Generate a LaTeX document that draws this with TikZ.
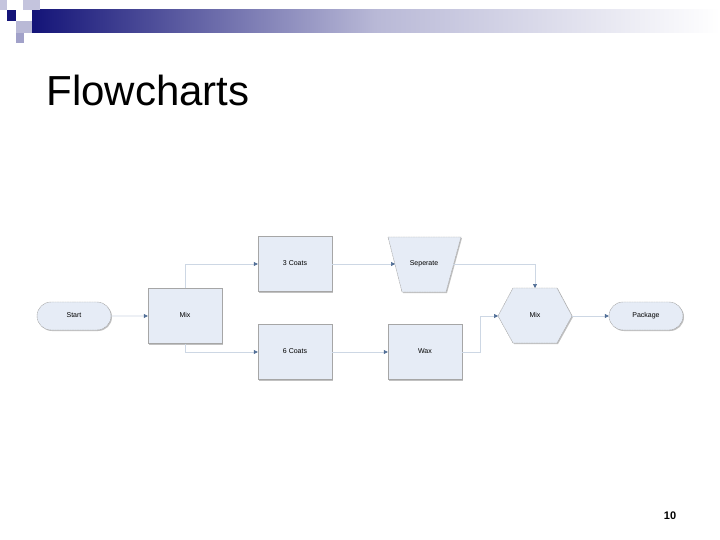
\documentclass[tikz,border=0pt]{standalone}
\usepackage{fontspec}
\setmainfont{Liberation Sans}
\usetikzlibrary{shapes.geometric,shapes.misc,arrows.meta,shadows}
\definecolor{navy}{RGB}{20,20,120}
\definecolor{boxfill}{RGB}{230,236,246}
\definecolor{linec}{RGB}{205,215,228}
\definecolor{tipc}{RGB}{80,110,150}
\begin{document}
\begin{tikzpicture}[x=1pt,y=-1pt,
  shp/.style={fill=boxfill,draw=gray!70,line width=0.4pt,font=\fontsize{7}{8}\selectfont,inner sep=0pt,text height=5pt,text depth=1.5pt,
    drop shadow={shadow xshift=1pt,shadow yshift=-1pt,fill=gray!60,opacity=0.8}},
  pshp/.style={fill=boxfill,draw=gray!70,line width=0.4pt},
  lbl/.style={font=\fontsize{7}{8}\selectfont,inner sep=0pt,text height=5pt,text depth=1.5pt},
  boxs/.style={shp,rectangle,minimum width=74pt,minimum height=55pt},
  term/.style={shp,rounded rectangle,minimum width=74pt,minimum height=28pt,dashed,dash pattern=on 2pt off 0.5pt},
  conn/.style={draw=linec,line width=0.6pt,-{Triangle[length=4pt,width=4pt,fill=tipc,color=tipc]}}]
\useasboundingbox (0,0) rectangle (720,540);
\fill[white] (0,0) rectangle (720,540);
% header
\shade[left color=navy,right color=white,middle color=navy!30] (32,10) rectangle (720,33);
\fill[navy!25] (0,0) rectangle (7,10);
\fill[navy!25] (23,0) rectangle (40,10);
\fill[navy] (7,10) rectangle (16,21);
\fill[navy!30] (16,21) rectangle (32,33);
\fill[navy!40] (16,33) rectangle (24,43);
\node[anchor=base west,font=\fontsize{42}{46}\selectfont] (title) at (43,106) {Flowcharts};
\node[font=\bfseries\fontsize{11}{12}\selectfont] (pg) at (670,516) {10};
% shapes
\node[term] (start) at (74,316) {Start};
\node[boxs] (mix1) at (185,316) {Mix};
\node[boxs] (c3) at (295,264) {3 Coats};
\node[boxs] (c6) at (295,352) {6 Coats};
\fill[gray!60,opacity=0.8] (389,238) -- (462,238) -- (447,293) -- (403,293) -- cycle;
\draw[pshp,dashed,dash pattern=on 2pt off 0.5pt] (388,237) -- (461,237) -- (446,292) -- (402,292) -- cycle;
\node[lbl] (sep) at (424,264) {Seperate};
\coordinate (sepin) at (395,264);
\coordinate (sepout) at (453,264);
\node[boxs] (wax) at (425,352) {Wax};
\fill[gray!60,opacity=0.8] (499,317) -- (514,289) -- (558,289) -- (573,317) -- (558,344) -- (514,344) -- cycle;
\draw[pshp,dashed,dash pattern=on 2pt off 0.5pt] (498,316) -- (513,288) -- (557,288) -- (572,316) -- (557,343) -- (513,343) -- cycle;
\node[lbl] (mix2) at (535,316) {Mix};
\coordinate (mix2n) at (535,288);
\coordinate (mix2w) at (498,316);
\coordinate (mix2e) at (572,316);
\node[term] (pack) at (646,316) {Package};
% connectors
\draw[conn] (start) -- (mix1);
\draw[conn] (mix1.north) |- (c3.west);
\draw[conn] (mix1.south) |- (c6.west);
\draw[conn] (c3) -- (sepin);
\draw[conn] (c6) -- (wax);
\draw[conn] (sepout) -| (mix2n);
\draw[conn] (wax.east) -- ++(18,0) |- (mix2w);
\draw[conn] (mix2e) -- (pack);
\end{tikzpicture}
\end{document}
